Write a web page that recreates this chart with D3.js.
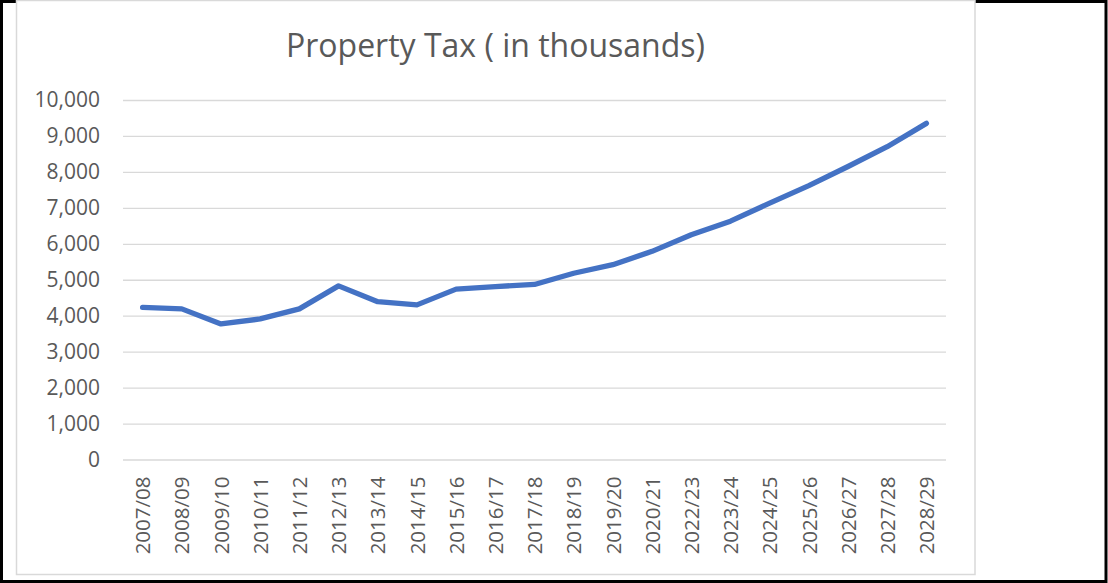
<!DOCTYPE html>
<html>
<head>
<meta charset="utf-8">
<script src="https://cdn.jsdelivr.net/npm/d3@7"></script>
<style>
  body { margin: 0; background: #fff; }
  text { font-family: "Open Sans", sans-serif; fill: #595959; }
</style>
</head>
<body>
<div id="chart"></div>
<script>
const years = ["2007/08", "2008/09", "2009/10", "2010/11", "2011/12", "2012/13", "2013/14",
    "2014/15", "2015/16", "2016/17", "2017/18", "2018/19", "2019/20", "2020/21",
    "2022/23", "2023/24", "2024/25", "2025/26", "2026/27", "2027/28", "2028/29"];
const propertyTax = [4230, 4190, 3770, 3910, 4190, 4830, 4390,
    4300, 4740, 4810, 4870, 5180, 5420, 5790,
    6250, 6630, 7130, 7620, 8150, 8700, 9350];
const yTicks = [0, 1000, 2000, 3000, 4000, 5000, 6000, 7000, 8000, 9000, 10000];
const title = "Property Tax ( in thousands)";

const W = 1108, H = 583;
const margin = {top: 100, left: 123},
    width = 946 - 123,
    height = 459.5 - 100;

const svg = d3.select("#chart").append("svg")
    .attr("width", W)
    .attr("height", H);

// outer black frame
svg.append("rect")
    .attr("x", 1.5).attr("y", 1.5)
    .attr("width", W - 3.5).attr("height", H - 3)
    .attr("fill", "#fff")
    .attr("stroke", "#000")
    .attr("stroke-width", 3);

// chart box
svg.append("rect")
    .attr("x", 16.5).attr("y", 0.5)
    .attr("width", 958.5).attr("height", 574)
    .attr("fill", "#fff")
    .attr("stroke", "#d9d9d9")
    .attr("stroke-width", 1.5);

svg.append("text")
    .attr("x", 495.5)
    .attr("y", 57)
    .attr("text-anchor", "middle")
    .attr("font-size", "32px")
    .text(title);

const g = svg.append("g")
    .attr("transform", "translate(" + margin.left + "," + margin.top + ")");

const x = d3.scalePoint()
    .domain(years)
    .range([0, width])
    .padding(0.5);

const y = d3.scaleLinear()
    .domain([0, 10000])
    .range([height, 0]);

// y axis with gridlines
const yAxis = g.append("g")
    .call(d3.axisLeft(y).tickValues(yTicks).tickFormat(d3.format(",")).tickSize(0).tickPadding(23));
yAxis.select(".domain").remove();
yAxis.selectAll("text")
    .attr("font-size", "21px")
    .attr("fill", "#595959")
    .style("font-family", "'Open Sans', sans-serif");
yAxis.selectAll(".tick").append("line")
    .attr("x2", width)
    .attr("stroke", "#d9d9d9")
    .attr("stroke-width", 1.3);

// x axis
const xAxis = g.append("g")
    .attr("transform", "translate(0," + height + ")")
    .call(d3.axisBottom(x).tickSize(0));
xAxis.select(".domain").remove();
xAxis.selectAll("text")
    .attr("font-size", "20.5px")
    .attr("fill", "#595959")
    .style("font-family", "'Open Sans', sans-serif")
    .attr("text-anchor", "end")
    .attr("transform", "rotate(-90)")
    .attr("x", -17)
    .attr("y", 0)
    .attr("dy", "0.35em");

const line = d3.line()
    .x((d, i) => x(years[i]))
    .y(d => y(d));

g.append("path")
    .datum(propertyTax)
    .attr("d", line)
    .attr("fill", "none")
    .attr("stroke", "#4472c4")
    .attr("stroke-width", 5.3)
    .attr("stroke-linejoin", "round")
    .attr("stroke-linecap", "round");
</script>
</body>
</html>
